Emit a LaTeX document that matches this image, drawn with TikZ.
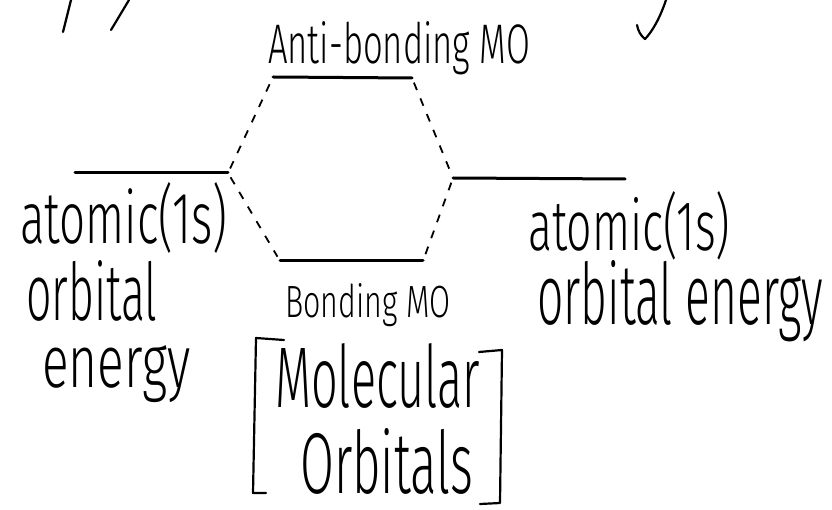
\documentclass[tikz,border=0pt]{standalone}
\usepackage{fontspec}
\usepackage{graphicx}
\newfontfamily\handfont{Fira Sans Light}
% handwritten-style label: width, height above baseline (pt), text
\newcommand{\hwtext}[3]{\resizebox{#1pt}{#2pt}{\handfont #3}}
\tikzset{
  level/.style={line width=3pt, line cap=round},
  link/.style={line width=1.8pt, dash pattern=on 8pt off 9pt, shorten <=5pt, shorten >=5pt},
  pen/.style={line width=2.2pt, line cap=round, line join=round},
  lbl/.style={inner sep=0pt, anchor=base west},
}
\begin{document}
\begin{tikzpicture}[x=1pt, y=-1pt]
  \useasboundingbox (0,0) rectangle (832,510);
  \fill[white] (0,0) rectangle (832,510);

  % stray strokes of the heading line above
  \draw[pen] (71,0) -- (63,32);
  \draw[pen] (129,0) -- (111,30);
  \draw[pen] (666,0) .. controls (660,18) and (652,32) .. (645,39)
             .. controls (641,36) and (638,31) .. (637,25);

  % energy levels
  \coordinate (L1) at (75,173);
  \coordinate (L2) at (228,173);
  \coordinate (A1) at (273,77);
  \coordinate (A2) at (412,78);
  \coordinate (R1) at (453,178);
  \coordinate (R2) at (625,179);
  \coordinate (B1) at (280,261);
  \coordinate (B2) at (423,261);

  \draw[level] (L1) -- (L2);
  \draw[level] (A1) -- (A2);
  \draw[level] (R1) -- (R2);
  \draw[level] (B1) -- (B2);

  % correlation lines
  \draw[link] (L2) -- (A1);
  \draw[link] (L2) -- (B1);
  \draw[link] (A2) -- (R1);
  \draw[link] (R1) -- (B2);

  % labels
  \node[lbl] (anti) at (268,64) {\hwtext{262}{42}{Anti-bonding MO}};
  \node[lbl] (latom) at (20,244) {\hwtext{207}{61}{atomic(1s)}};
  \node[lbl] (lorb) at (26,320) {\hwtext{131}{60}{orbital}};
  \node[lbl] (lene) at (42,387) {\hwtext{148}{42}{energy}};
  \node[lbl] (ratom) at (528,251) {\hwtext{202}{59}{atomic(1s)}};
  \node[lbl] (rorb) at (537,325) {\hwtext{286}{64}{orbital energy}};
  \node[lbl] (bond) at (285,317) {\hwtext{165}{34}{Bonding MO}};
  \node[lbl] (mol) at (275,407) {\hwtext{205}{64}{Molecular}};
  \node[lbl] (orbs) at (300,493) {\hwtext{173}{65}{Orbitals}};

  % brackets round the caption
  \draw[pen] (284,340) -- (256,338) -- (253,493) -- (266,493);
  \draw[pen] (479,352) -- (502,350) -- (500,503) -- (480,504);
\end{tikzpicture}
\end{document}
